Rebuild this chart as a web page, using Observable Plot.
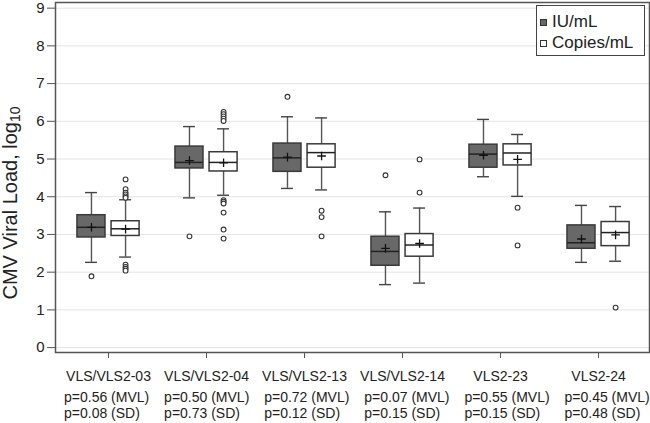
<!DOCTYPE html>
<html><head><meta charset="utf-8">
<script src="https://cdn.jsdelivr.net/npm/d3@7"></script>
<script src="https://cdn.jsdelivr.net/npm/@observablehq/plot@0.6"></script>
<style>
html,body{margin:0;padding:0;background:#fff;overflow:hidden;font-family:Arial,"Liberation Sans",sans-serif;color:#222;}
#wrap{position:relative;width:650px;height:423px;overflow:hidden;}
#wrap svg{display:block;position:absolute;left:0;top:0;}
#legend{position:absolute;left:536px;top:5px;width:107px;height:49px;border:1px solid #444;background:#fff;font-size:17px;}
#legend .row{position:absolute;left:0;height:20px;line-height:20px;white-space:nowrap;}
#legend .sw{position:absolute;left:3px;top:7px;width:5px;height:5px;border:1px solid #333;}
#legend .lab{position:absolute;left:15px;top:0;}
</style></head><body><div id="wrap"></div><script>
// ---- data ----
const groups = ["VLS/VLS2-03","VLS/VLS2-04","VLS/VLS2-13","VLS/VLS2-14","VLS2-23","VLS2-24"];
const pMVL = ["0.56","0.50","0.72","0.07","0.55","0.45"];
const pSD  = ["0.08","0.73","0.12","0.15","0.15","0.48"];
const seriesNames = ["IU/mL","Copies/mL"];
const seriesColors = ["#686868","#ffffff"];
const yTicks = [0,1,2,3,4,5,6,7,8,9];

const iuLow    = [2.26,3.97,4.22,1.67,4.53,2.26];
const iuQ1     = [2.92,4.75,4.66,2.17,4.77,2.62];
const iuMedian = [3.19,4.91,5.03,2.55,5.13,2.78];
const iuQ3     = [3.51,5.33,5.41,2.94,5.38,3.24];
const iuHigh   = [4.11,5.86,6.12,3.60,6.05,3.77];
const iuMean   = [3.19,4.96,5.05,2.63,5.10,2.88];
const iuOutliers = [[1.89],[2.95],[6.65],[4.57],[],[]];

const cpLow    = [2.40,4.04,4.18,1.71,4.01,2.29];
const cpQ1     = [2.96,4.67,4.77,2.41,4.83,2.69];
const cpMedian = [3.15,4.91,5.17,2.72,5.16,3.05];
const cpQ3     = [3.35,5.18,5.39,3.01,5.39,3.33];
const cpHigh   = [3.92,5.80,6.09,3.70,5.65,3.74];
const cpMean   = [3.14,4.90,5.08,2.76,4.99,2.99];
const cpOutliers = [
  [4.46,4.20,4.11,4.06,4.01,3.97,2.20,2.14,2.09,2.04],
  [6.25,6.19,6.13,6.07,6.01,3.91,3.87,3.82,3.58,3.13,2.89],
  [3.63,3.46,2.95],
  [4.99,4.11],
  [3.71,2.71],
  [1.06]
];

// ---- layout constants (in x-scale units) ----
const OFF = 0.174, HW = 0.143, CAP = 0.061;

const stats = [
  {low:iuLow,q1:iuQ1,med:iuMedian,q3:iuQ3,high:iuHigh,mean:iuMean,out:iuOutliers},
  {low:cpLow,q1:cpQ1,med:cpMedian,q3:cpQ3,high:cpHigh,mean:cpMean,out:cpOutliers}
];
const rows = [], outRows = [];
groups.forEach((g,i)=>{
  stats.forEach((s,k)=>{
    const x = i + (k===0 ? -OFF : OFF);
    rows.push({g, series: seriesNames[k], k, x, low:s.low[i], q1:s.q1[i], med:s.med[i], q3:s.q3[i], high:s.high[i], mean:s.mean[i]});
    s.out[i].forEach(v=>outRows.push({x, v}));
  });
});

const plot = Plot.plot({
  width: 650, height: 423,
  marginTop: 2, marginRight: 1, marginBottom: 71, marginLeft: 55,
  style: {fontFamily: "Arial, 'Liberation Sans', sans-serif", color: "#222", background: "transparent", overflow: "visible"},
  x: {domain: [-0.541, 5.52], axis: null, label: null},
  y: {domain: [-0.13, 9.15], axis: null, label: null},
  marks: [
    Plot.gridY(yTicks, {stroke: "#e4e4e4", strokeOpacity: 1}),
    Plot.ruleX(rows, {x: "x", y1: "low", y2: "q1", stroke: "#555", strokeWidth: 1.4}),
    Plot.ruleX(rows, {x: "x", y1: "q3", y2: "high", stroke: "#555", strokeWidth: 1.4}),
    Plot.ruleY(rows, {y: "low", x1: d => d.x - CAP, x2: d => d.x + CAP, stroke: "#444", strokeWidth: 1.4}),
    Plot.ruleY(rows, {y: "high", x1: d => d.x - CAP, x2: d => d.x + CAP, stroke: "#444", strokeWidth: 1.4}),
    Plot.rect(rows, {x1: d => d.x - HW, x2: d => d.x + HW, y1: "q1", y2: "q3", fill: d => seriesColors[d.k], stroke: "#3a3a3a", strokeWidth: 1.5}),
    Plot.ruleY(rows, {y: "med", x1: d => d.x - HW, x2: d => d.x + HW, stroke: "#222", strokeWidth: 1.5}),
    Plot.dot(rows, {x: "x", y: "mean", symbol: "plus", r: 2.9, stroke: "#111", strokeWidth: 1.3}),
    Plot.dot(outRows, {x: "x", y: "v", r: 2.4, fill: "white", stroke: "#333", strokeWidth: 1.1}),
    Plot.frame({stroke: "#555", strokeWidth: 1.5}),
    Plot.axisY(yTicks, {tickSize: 8, tickPadding: 3, fontSize: 15, stroke: "#555", fill: "#222", label: null}),
    Plot.axisX(d3.range(groups.length), {tickFormat: i => groups[i], tickSize: 6, tickPadding: 13, fontSize: 14, stroke: "#555", fill: "#222", label: null})
  ]
});

const svg = d3.select(plot);
const FONT = "Arial, 'Liberation Sans', sans-serif";

// y-axis title with subscript
const t = svg.append("text")
  .attr("transform", "translate(17,203) rotate(-90)")
  .attr("text-anchor", "middle")
  .attr("font-size", 20)
  .attr("fill", "#222")
  .attr("font-family", FONT);
t.append("tspan").text("CMV Viral Load, log");
t.append("tspan").attr("font-size", 14).attr("dy", 3).text("10");

// p-value annotations under each group label
const pg = svg.append("g").attr("font-family", FONT).attr("font-size", 14).attr("fill", "#222").attr("text-anchor", "start");
groups.forEach((g, i) => {
  const x0 = 64 + i * 100.1;
  pg.append("text").attr("x", x0).attr("y", 402).text("p=" + pMVL[i] + " (MVL)");
  pg.append("text").attr("x", x0).attr("y", 418).text("p=" + pSD[i] + " (SD)");
});

const wrap = document.getElementById("wrap");
wrap.appendChild(plot);

// legend
const legend = document.createElement("div");
legend.id = "legend";
seriesNames.forEach((name, k) => {
  const row = document.createElement("div");
  row.className = "row";
  row.style.top = (6 + k * 21) + "px";
  const sw = document.createElement("div");
  sw.className = "sw"; sw.style.background = seriesColors[k];
  const lab = document.createElement("div");
  lab.className = "lab"; lab.textContent = name;
  row.appendChild(sw); row.appendChild(lab);
  legend.appendChild(row);
});
wrap.appendChild(legend);
</script></body></html>
